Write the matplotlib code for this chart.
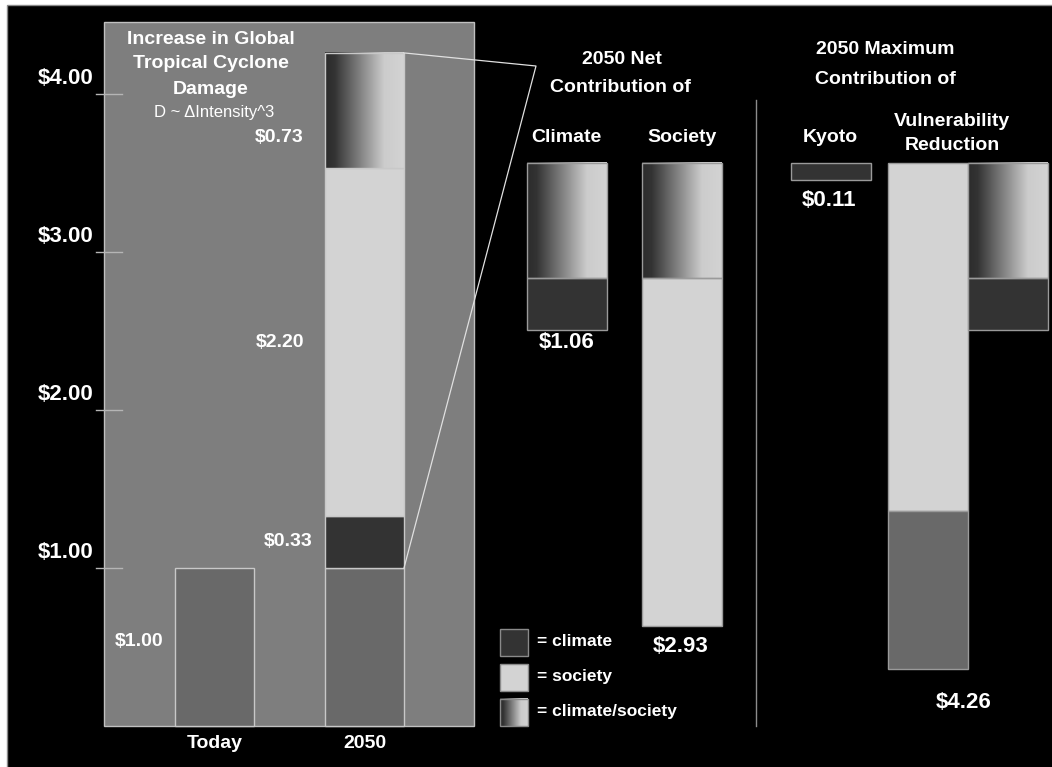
# Tropical cyclone damage: climate vs society contributions
import numpy as np
import matplotlib.pyplot as plt
from matplotlib.patches import Rectangle
from matplotlib.colors import LinearSegmentedColormap

# values ($, relative to today's damage = $1.00)
categories = ["Today", "2050"]
base = [1.00, 1.00]
climate = 0.33        # climate-only part of 2050 increase
society = 2.20        # society-only part of 2050 increase
mixed = 0.73          # climate/society interaction
kyoto = 0.11
yticks = [1, 2, 3, 4]
legend_labels = ["= climate", "= society", "= climate/society"]

net_climate = climate + mixed
net_society = society + mixed
vuln_total = base[1] + society + climate + mixed

C_BASE = "#696969"
C_CLIM = "#333333"
C_SOC = "#d3d3d3"
C_PANEL = "#7e7e7e"
EDGE = "#c8c8c8"
FONT = ["Liberation Sans", "DejaVu Sans"]
grad_cmap = LinearSegmentedColormap.from_list(
    "cs", [(0, "#2c2c2c"), (0.12, "#333333"), (0.75, "#cccccc"), (1, "#d3d3d3")])

W, H = 1052, 767
Y0, PX = 726, 158.0   # pixel row of $0 and pixels per dollar


def v(py):
    return (Y0 - py) / PX


fig = plt.figure(figsize=(W / 100, H / 100), dpi=100, facecolor="white")
ax = fig.add_axes([0, 0, 1, 1])
ax.set_facecolor("none")
ax.axis("off")
ax.add_patch(Rectangle((7 / W, -0.01), 1, 1.01 - 5 / H, transform=ax.transAxes,
                       facecolor="black", edgecolor="#8a8a8a", lw=1, zorder=0))


def txt(x, y, s, size=14, weight="bold", ha="center"):
    ax.text(x / W, 1 - y / H, s, transform=ax.transAxes, color="white",
            fontsize=size, fontweight=weight, ha=ha, va="center", family=FONT, zorder=6)


def grad(x0, x1, y0, y1, edge=EDGE):
    ax.imshow(np.linspace(0, 1, 256).reshape(1, -1), cmap=grad_cmap,
              extent=[x0, x1, y0, y1], aspect="auto", zorder=3)
    ax.add_patch(Rectangle((x0, y0), x1 - x0, y1 - y0, fill=False,
                           edgecolor=edge, lw=1, zorder=4))


# left panel
ax.add_patch(Rectangle((104, 0), 370, v(22), facecolor=C_PANEL,
                       edgecolor="#c0c0c0", lw=1, zorder=1))
for t in yticks:
    ax.plot([96, 122], [t, t], color="#b5b5b5", lw=1, zorder=2)
    ax.text(93, t + 0.03, f"${t:.2f}", color="white", fontsize=16,
            fontweight="bold", ha="right", va="bottom", family=FONT)

bw = 79
xs = [214.5, 364.5]
ax.bar(xs, base, bw, color=C_BASE, edgecolor=EDGE, lw=1, zorder=3)
ax.bar(xs[1], climate, bw, bottom=base[1], color=C_CLIM, edgecolor=EDGE, lw=1, zorder=3)
ax.bar(xs[1], society, bw, bottom=base[1] + climate, color=C_SOC, edgecolor=EDGE, lw=1, zorder=3)
top_soc = base[1] + climate + society
grad(xs[1] - bw / 2, xs[1] + bw / 2, top_soc, top_soc + mixed)

for x, c in zip(xs, categories):
    txt(x, 743, c)
txt(211, 40, "Increase in Global")
txt(211, 64, "Tropical Cyclone")
txt(211, 89, "Damage")
txt(214, 112, "D ~ \u0394Intensity^3", size=12, weight="normal")
txt(304, 137, f"${mixed:.2f}", ha="right")
txt(304, 342, f"${society:.2f}", ha="right")
txt(313, 541, f"${climate:.2f}", ha="right")
txt(163, 641, f"${base[0]:.2f}", ha="right")

# zoom lines from 2050 bar
xr = xs[1] + bw / 2
ax.plot([xr, 536, xr], [top_soc + mixed, v(66), base[1]], color="#e0e0e0", lw=0.9, zorder=5)

# net contribution bars
top = v(163)
bw2 = 80
cx = 567
grad(cx - bw2 / 2, cx + bw2 / 2, top - mixed, top, edge="#9a9a9a")
ax.bar(cx, climate, bw2, bottom=top - mixed - climate, color=C_CLIM, edgecolor="#9a9a9a", lw=1, zorder=3)
sx = 682
grad(sx - bw2 / 2, sx + bw2 / 2, top - mixed, top, edge="#9a9a9a")
ax.bar(sx, society, bw2, bottom=top - mixed - society, color=C_SOC, edgecolor="#9a9a9a", lw=1, zorder=3)

txt(622, 59, "2050 Net")
txt(620, 88, "Contribution of")
txt(566, 137, "Climate")
txt(682, 137, "Society")
txt(567, 342, f"${net_climate:.2f}", size=16)
txt(681, 646, f"${net_society:.2f}", size=16)

# separator
ax.plot([756, 756], [v(100), v(726)], color="#8c8c8c", lw=1, zorder=2)

# maximum contribution bars
kx = 831
ax.bar(kx, kyoto, bw2, bottom=top - kyoto, color=C_CLIM, edgecolor="#9a9a9a", lw=1, zorder=3)
vx = 928
ax.bar(vx, society, bw2, bottom=top - society, color=C_SOC, edgecolor="#9a9a9a", lw=1, zorder=3)
ax.bar(vx, base[1], bw2, bottom=top - society - base[1], color=C_BASE, edgecolor="#9a9a9a", lw=1, zorder=3)
vx2 = 1007.5
grad(vx2 - bw2 / 2, vx2 + bw2 / 2, top - mixed, top, edge="#9a9a9a")
ax.bar(vx2, climate, bw2, bottom=top - mixed - climate, color=C_CLIM, edgecolor="#9a9a9a", lw=1, zorder=3)

txt(885, 49, "2050 Maximum")
txt(885, 79, "Contribution of")
txt(830, 137, "Kyoto")
txt(952, 122, "Vulnerability")
txt(952, 146, "Reduction")
txt(829, 201, f"${kyoto:.2f}", size=16)
txt(964, 702, f"${vuln_total:.2f}", size=16)

# legend
leg_rows = [(629, 656), (664, 691), (699, 726)]
for i, (lab, (r0, r1)) in enumerate(zip(legend_labels, leg_rows)):
    if i < 2:
        ax.add_patch(Rectangle((500, v(r1)), 28, v(r0) - v(r1),
                               facecolor=[C_CLIM, C_SOC][i], edgecolor="#8a8a8a", lw=1, zorder=3))
    else:
        grad(500, 528, v(r1), v(r0), edge="#8a8a8a")
    txt(537, (r0 + r1) / 2 - 1, lab, size=12.5, ha="left")

ax.set_xlim(0, W)
ax.set_ylim(v(H), v(0))

fig.savefig("out.png", dpi=100, facecolor=fig.get_facecolor())
